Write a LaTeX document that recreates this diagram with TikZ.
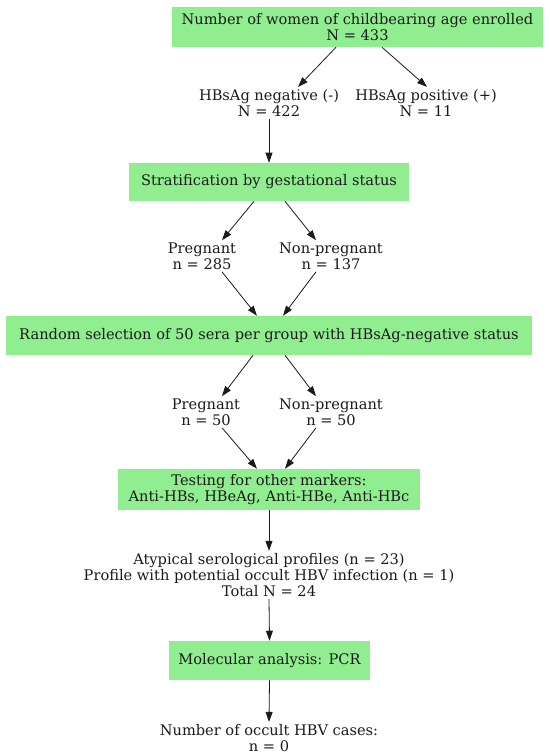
\documentclass[tikz,border=0pt]{standalone}
\usepackage{fontspec}
\setmainfont{DejaVu Serif}
\usetikzlibrary{arrows.meta,calc}
\definecolor{boxgreen}{HTML}{90EE90}
\definecolor{txt}{HTML}{1A1A1A}
\begin{document}
\begin{tikzpicture}[x=0.75pt,y=-0.75pt,
  every node/.style={font=\fontsize{10.95}{12.2}\selectfont,text=txt,align=center},
  gbox/.style={fill=boxgreen,inner sep=0pt},
  plain/.style={inner sep=1.5pt},
  arr/.style={-{Triangle[length=7.5pt,width=5.2pt]},line width=0.6pt,draw=txt}]
\useasboundingbox (0,0) rectangle (550,756);
\node[gbox,minimum width=371*0.75pt,minimum height=40*0.75pt] (b1) at (357.5,27) {Number of women of childbearing age enrolled\\N = 433};
\node[plain] (neg) at (269,103) {HBsAg negative (-)\\N = 422};
\node[plain] (pos) at (426,103) {HBsAg positive (+)\\N = 11};
\node[gbox,minimum width=280*0.75pt,minimum height=38*0.75pt] (b2) at (269,182) {Stratification by gestational status};
\node[plain] (p1) at (202,256) {Pregnant\\n = 285};
\node[plain] (n1) at (331,256) {Non-pregnant\\n = 137};
\node[gbox,minimum width=526*0.75pt,minimum height=39*0.75pt] (b3) at (269,335.5) {Random selection of 50 sera per group with HBsAg-negative status};
\node[plain] (p2) at (206,412) {Pregnant\\n = 50};
\node[plain] (n2) at (331,412) {Non-pregnant\\n = 50};
\node[gbox,minimum width=302*0.75pt,minimum height=41*0.75pt] (b4) at (269,489.5) {Testing for other markers:\\Anti-HBs, HBeAg, Anti-HBe, Anti-HBc};
\node[plain] (aty) at (269,575) {Atypical serological profiles (n = 23)\\Profile with potential occult HBV infection (n = 1)\\Total N = 24};
\node[gbox,minimum width=201*0.75pt,minimum height=39*0.75pt] (b5) at (269.5,660.5) {Molecular analysis: PCR};
\node[plain] (last) at (269,738) {Number of occult HBV cases:\\n = 0};
\draw[arr] ($(b1.south)+(-21.5,0)$) -- ($(neg.north)+(29,0)$);
\draw[arr] ($(b1.south)+(24.5,0)$) -- ($(pos.north)+(1,0)$);
\draw[arr] (neg.south) -- (b2.north);
\draw[arr] ($(b2.south)+(-15,0)$) -- ($(p1.north)+(20,0)$);
\draw[arr] ($(b2.south)+(16,0)$) -- ($(n1.north)+(-15,0)$);
\draw[arr] ($(p1.south)+(20,0)$) -- ($(b3.north)+(-12,0)$);
\draw[arr] ($(n1.south)+(-15,0)$) -- ($(b3.north)+(14,0)$);
\draw[arr] ($(b3.south)+(-16,0)$) -- ($(p2.north)+(16,0)$);
\draw[arr] ($(b3.south)+(16,0)$) -- ($(n2.north)+(-15,0)$);
\draw[arr] ($(p2.south)+(16,0)$) -- ($(b4.north)+(-12,0)$);
\draw[arr] ($(n2.south)+(-15,0)$) -- ($(b4.north)+(16,0)$);
\draw[arr] (b4.south) -- (aty.north);
\draw[arr] (aty.south) -- (b5.north);
\draw[arr] (b5.south) -- (last.north);
\end{tikzpicture}
\end{document}
